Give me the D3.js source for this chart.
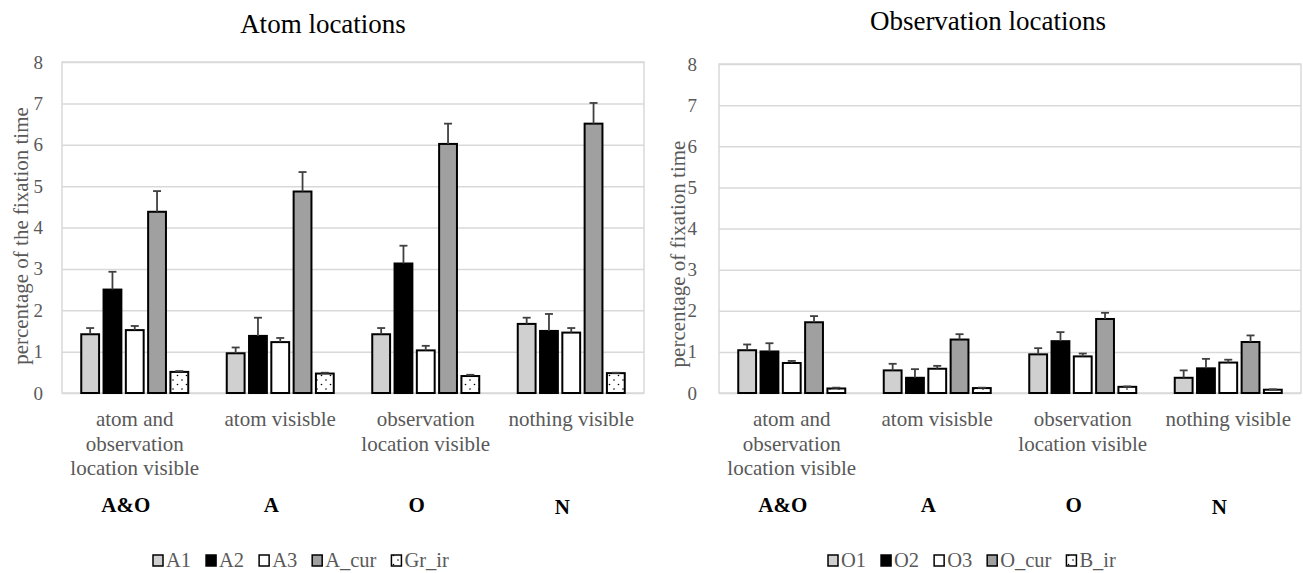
<!DOCTYPE html>
<html>
<head>
<meta charset="utf-8">
<script src="https://cdn.jsdelivr.net/npm/d3@7"></script>
<style>
  body { margin: 0; background: #fff; }
  svg { display: block; }
  text { font-family: "Liberation Serif", "Times New Roman", serif; }
</style>
</head>
<body>
<div id="chart"></div>
<script>
// categories shared by both panels
const categoryLines = [
    ["atom and", "observation", "location visible"],
    ["atom visisble"],
    ["observation", "location visible"],
    ["nothing visible"]
];
const categoryCodes = ["A&O", "A", "O", "N"];
const yTicks = [0, 1, 2, 3, 4, 5, 6, 7, 8];

// atom locations panel
const atomSeries = ["A1", "A2", "A3", "A_cur", "Gr_ir"];
const atomA1 = [1.42, 0.96, 1.42, 1.67];
const atomA2 = [2.50, 1.38, 3.13, 1.50];
const atomA3 = [1.52, 1.23, 1.03, 1.46];
const atomCur = [4.38, 4.87, 6.02, 6.51];
const atomGrIr = [0.51, 0.47, 0.41, 0.48];
const atomA1Err = [0.15, 0.14, 0.15, 0.15];
const atomA2Err = [0.43, 0.44, 0.43, 0.41];
const atomA3Err = [0.10, 0.10, 0.11, 0.11];
const atomCurErr = [0.50, 0.47, 0.49, 0.50];
const atomGrIrErr = [0.02, 0.02, 0.03, 0.01];

// observation locations panel
const obsSeries = ["O1", "O2", "O3", "O_cur", "B_ir"];
const obsO1 = [1.04, 0.55, 0.94, 0.37];
const obsO2 = [1.01, 0.37, 1.26, 0.60];
const obsO3 = [0.73, 0.59, 0.89, 0.74];
const obsCur = [1.72, 1.30, 1.80, 1.24];
const obsBIr = [0.11, 0.12, 0.15, 0.08];
const obsO1Err = [0.14, 0.16, 0.15, 0.18];
const obsO2Err = [0.20, 0.21, 0.22, 0.23];
const obsO3Err = [0.05, 0.07, 0.07, 0.07];
const obsCurErr = [0.15, 0.13, 0.15, 0.16];
const obsBIrErr = [0.02, 0.01, 0.01, 0.01];

const fills = ["#d0d0d0", "#000000", "#ffffff", "#a0a0a0", "url(#dots)"];
const textGray = "#595959";
const gridGray = "#d9d9d9";

const panels = [
    {
        title: "Atom locations", yTitle: "percentage of the fixation time",
        series: atomSeries,
        values: [atomA1, atomA2, atomA3, atomCur, atomGrIr],
        errors: [atomA1Err, atomA2Err, atomA3Err, atomCurErr, atomGrIrErr],
        left: 62, right: 644, top: 62, bottom: 393, tickPad: 19,
        titleX: 323, titleY: 33, yTitleX: 28, yTitleY: 236, legendX: 153
    },
    {
        title: "Observation locations", yTitle: "percentage of fixation time",
        series: obsSeries,
        values: [obsO1, obsO2, obsO3, obsCur, obsBIr],
        errors: [obsO1Err, obsO2Err, obsO3Err, obsCurErr, obsBIrErr],
        left: 719, right: 1301, top: 64, bottom: 393, tickPad: 22,
        titleX: 988, titleY: 30, yTitleX: 685, yTitleY: 254, legendX: 828
    }
];

const svg = d3.select("#chart").append("svg")
    .attr("width", 1303)
    .attr("height", 573);

const defs = svg.append("defs");
const dots = defs.append("pattern")
    .attr("id", "dots")
    .attr("patternUnits", "userSpaceOnUse")
    .attr("width", 9)
    .attr("height", 9);
dots.append("rect").attr("width", 9).attr("height", 9).attr("fill", "#fff");
dots.append("circle").attr("cx", 2).attr("cy", 2).attr("r", 0.8).attr("fill", "#000");
dots.append("circle").attr("cx", 6.5).attr("cy", 6.5).attr("r", 0.8).attr("fill", "#000");

panels.forEach(p => {
    const w = p.right - p.left;
    const g = svg.append("g");

    const y = d3.scaleLinear().domain([0, 8]).range([p.bottom, p.top]);
    const x0 = d3.scaleBand()
        .domain(d3.range(categoryLines.length))
        .range([p.left, p.right])
        .paddingInner(0.234)
        .paddingOuter(0.117);
    const x1 = d3.scaleBand()
        .domain(p.series)
        .range([0, x0.bandwidth()])
        .paddingInner(0.2)
        .paddingOuter(0.1);

    // grid lines + tick labels
    const yAxis = g.append("g")
        .attr("transform", `translate(${p.left},0)`)
        .call(d3.axisLeft(y).tickValues(yTicks).tickSize(-w).tickPadding(p.tickPad).tickFormat(d3.format("d")));
    yAxis.attr("font-family", "'Liberation Serif', serif").attr("font-size", 19);
    yAxis.select(".domain").remove();
    yAxis.selectAll(".tick line").attr("stroke", gridGray).attr("stroke-width", 1.5);
    yAxis.selectAll(".tick text").attr("fill", textGray);

    // plot border
    g.append("rect")
        .attr("x", p.left).attr("y", p.top)
        .attr("width", w).attr("height", p.bottom - p.top)
        .attr("fill", "none")
        .attr("stroke", gridGray)
        .attr("stroke-width", 1.5);

    // bars
    const barData = [];
    categoryLines.forEach((c, ci) => {
        p.series.forEach((s, si) => {
            barData.push({ ci: ci, si: si, s: s, v: p.values[si][ci], e: p.errors[si][ci] });
        });
    });

    g.append("g").selectAll("rect")
        .data(barData)
        .enter().append("rect")
        .attr("x", d => x0(d.ci) + x1(d.s))
        .attr("y", d => y(d.v))
        .attr("width", x1.bandwidth())
        .attr("height", d => y(0) - y(d.v))
        .attr("fill", d => fills[d.si])
        .attr("stroke", "#000")
        .attr("stroke-width", 2);

    // error bars (plus direction)
    const errG = g.append("g").attr("stroke", "#404040").attr("stroke-width", 1.8);
    barData.forEach(d => {
        const cx = x0(d.ci) + x1(d.s) + x1.bandwidth() / 2;
        errG.append("line")
            .attr("x1", cx).attr("x2", cx)
            .attr("y1", y(d.v)).attr("y2", y(d.v + d.e));
        errG.append("line")
            .attr("x1", cx - 4).attr("x2", cx + 4)
            .attr("y1", y(d.v + d.e)).attr("y2", y(d.v + d.e));
    });

    // category labels
    categoryLines.forEach((lines, ci) => {
        const cx = x0(ci) + x0.bandwidth() / 2;
        const t = g.append("text")
            .attr("text-anchor", "middle")
            .attr("fill", textGray)
            .style("font-size", "21px");
        lines.forEach((ln, li) => {
            t.append("tspan").attr("x", cx).attr("y", 426 + li * 24.5).text(ln);
        });
        g.append("text")
            .attr("x", cx - 9)
            .attr("y", ci === 3 ? 514 : 512)
            .attr("text-anchor", "middle")
            .attr("fill", "#000")
            .style("font-size", "21px")
            .style("font-weight", "bold")
            .text(categoryCodes[ci]);
    });

    // title
    g.append("text")
        .attr("x", p.titleX).attr("y", p.titleY)
        .attr("text-anchor", "middle")
        .attr("fill", "#000")
        .style("font-size", "27px")
        .text(p.title);

    // y axis title
    g.append("text")
        .attr("transform", `translate(${p.yTitleX},${p.yTitleY}) rotate(-90)`)
        .attr("text-anchor", "middle")
        .attr("fill", textGray)
        .style("font-size", "21px")
        .text(p.yTitle);

    // legend
    let lx = p.legendX;
    p.series.forEach((s, si) => {
        g.append("rect")
            .attr("x", lx).attr("y", 555)
            .attr("width", 10).attr("height", 11)
            .attr("fill", fills[si])
            .attr("stroke", "#000")
            .attr("stroke-width", 1.5);
        const t = g.append("text")
            .attr("x", lx + 13).attr("y", 567)
            .attr("fill", textGray)
            .style("font-size", "20.5px")
            .text(s);
        lx += 13 + t.node().getComputedTextLength() + 15;
    });
});
</script>
</body>
</html>
